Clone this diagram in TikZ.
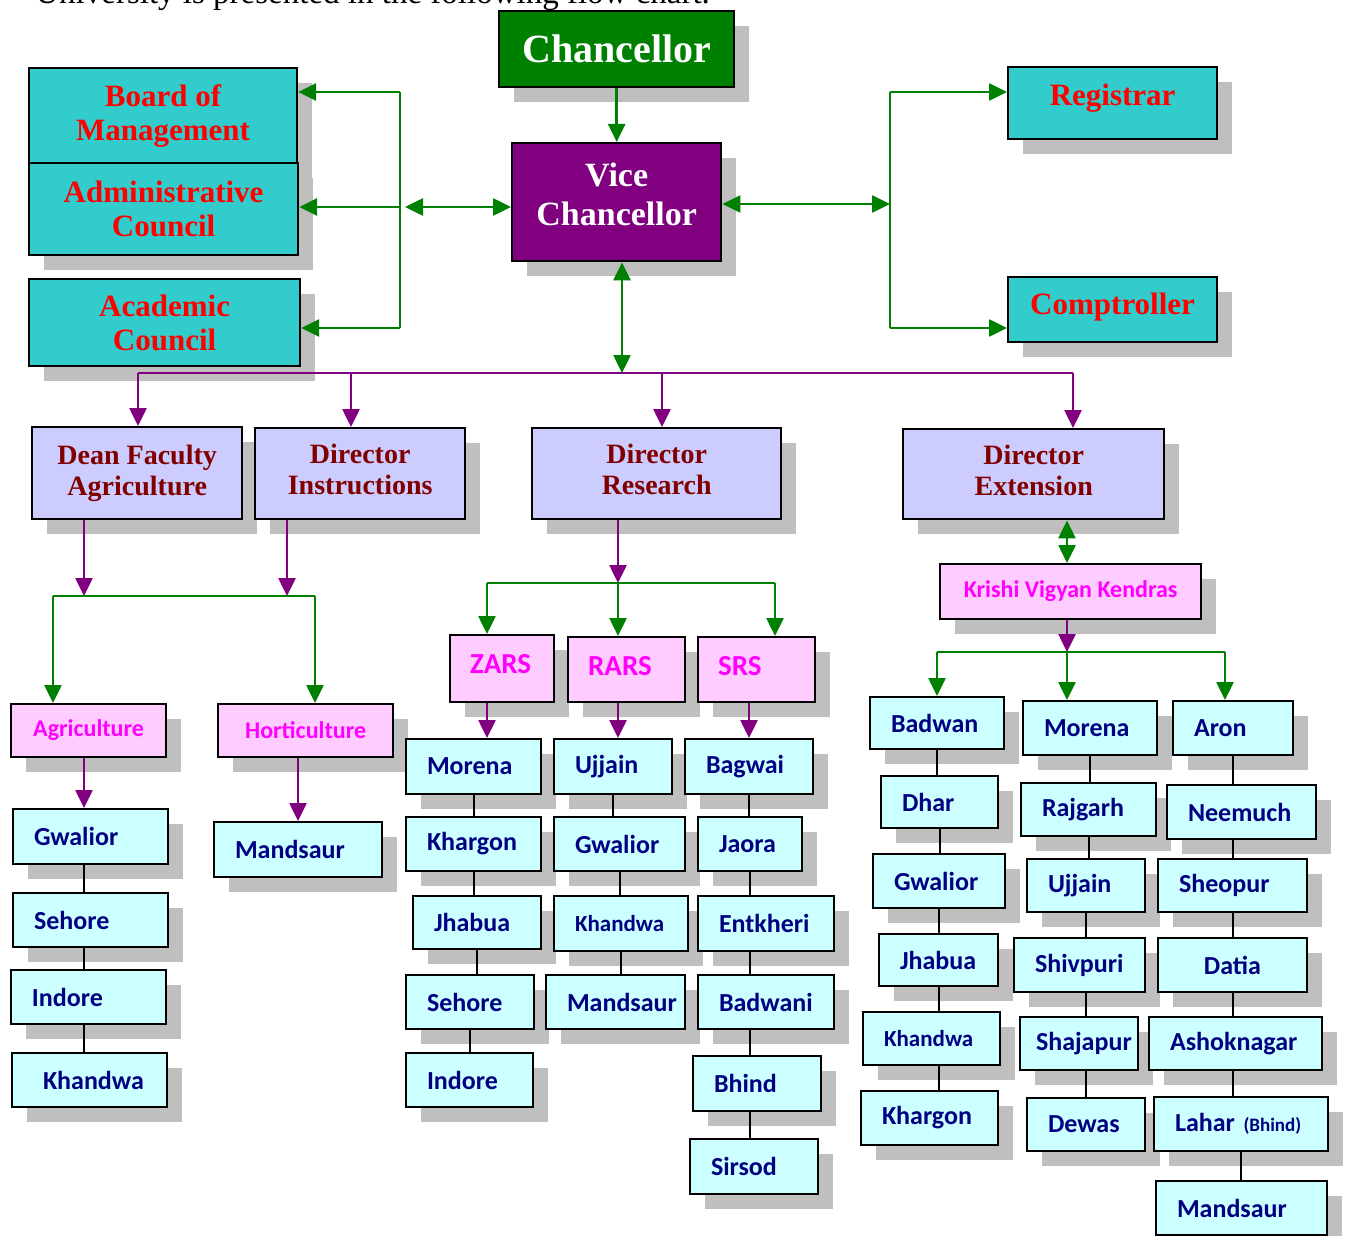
\documentclass[tikz,border=0pt]{standalone}
\usepackage{fontspec}
\setmainfont{Liberation Serif}
\newfontfamily\ocsans{Carlito}
\usetikzlibrary{arrows.meta, shadows}
\definecolor{ocGreen}{RGB}{0,128,0}
\definecolor{ocPurple}{RGB}{128,0,128}
\definecolor{ocTeal}{RGB}{51,204,204}
\definecolor{ocLavender}{RGB}{204,204,255}
\definecolor{ocPink}{RGB}{255,204,255}
\definecolor{ocCyan}{RGB}{204,255,255}
\definecolor{ocMaroon}{RGB}{128,0,0}
\definecolor{ocNavy}{RGB}{0,0,128}
\definecolor{ocRed}{RGB}{255,0,0}
\definecolor{ocMagenta}{RGB}{255,0,255}
\definecolor{ocGray}{RGB}{191,191,191}
\tikzstyle{ocShadow} = [drop shadow={shadow xshift=7.5pt, shadow yshift=-7.5pt, fill=ocGray, opacity=1}]
\tikzstyle{ocChancellor} = [rectangle, anchor=north west, draw=black, line width=1.2pt, fill=ocGreen, text=white, align=center, font=\bfseries\fontsize{20}{24}\selectfont, ocShadow]
\tikzstyle{ocVice} = [rectangle, anchor=north west, draw=black, line width=1.2pt, fill=ocPurple, text=white, align=center, font=\bfseries\fontsize{17}{19.5}\selectfont, ocShadow]
\tikzstyle{ocCouncil} = [rectangle, anchor=north west, draw=black, line width=1.1pt, fill=ocTeal, text=ocRed, align=center, font=\bfseries\fontsize{15.5}{17}\selectfont, ocShadow]
\tikzstyle{ocDirector} = [rectangle, anchor=north west, draw=black, line width=1.2pt, fill=ocLavender, text=ocMaroon, align=center, font=\bfseries\fontsize{14}{15.5}\selectfont, ocShadow]
\tikzstyle{ocStation} = [rectangle, anchor=north west, draw=black, line width=1.1pt, fill=ocPink, text=ocMagenta, align=center, font=\ocsans\bfseries\fontsize{12}{14}\selectfont, ocShadow]
\tikzstyle{ocUnit} = [rectangle, anchor=north west, draw=black, line width=1pt, fill=ocCyan, text=ocNavy, align=left, inner xsep=10.5pt, inner ysep=0pt, font=\ocsans\bfseries\fontsize{13}{15}\selectfont, ocShadow]
\tikzstyle{ocGreenLine} = [draw=ocGreen, line width=1pt]
\tikzstyle{ocPurpleLine} = [draw=ocPurple, line width=1pt]
\tikzstyle{ocGreenArrow} = [draw=ocGreen, line width=1.3pt, -{Triangle[length=9pt, width=8.5pt]}, color=ocGreen]
\tikzstyle{ocGreenBoth} = [draw=ocGreen, line width=1.3pt, {Triangle[length=9pt, width=8.5pt]}-{Triangle[length=9pt, width=8.5pt]}, color=ocGreen]
\tikzstyle{ocPurpleArrow} = [draw=ocPurple, line width=1.3pt, -{Triangle[length=9pt, width=8.5pt]}, color=ocPurple]
\tikzstyle{ocLink} = [draw=black, line width=1pt]
\begin{document}
\begin{tikzpicture}[x=0.5pt, y=-0.5pt]
    \useasboundingbox (0,0) rectangle (1346,1236);
    \node (intro) [anchor=base west, inner sep=0pt, font=\fontsize{16.5}{18}\selectfont] at (35,4) {University is presented in the following flow chart.};

    % top of the university
    \node (chancellor) [ocChancellor, minimum width=117.5pt, minimum height=38pt] at (498,10) {Chancellor};
    \node (viceChancellor) [ocVice, minimum width=104.5pt, minimum height=59pt, text depth=8pt] at (511,142) {Vice\\Chancellor};
    \node (boardMgmt) [ocCouncil, minimum width=134pt, minimum height=47.5pt] at (28,67) {Board of\\Management};
    \node (adminCouncil) [ocCouncil, minimum width=134.5pt, minimum height=46pt] at (28,162) {Administrative\\Council};
    \node (academicCouncil) [ocCouncil, minimum width=135.5pt, minimum height=43.5pt] at (28,278) {Academic\\Council};
    \node (registrar) [ocCouncil, minimum width=104.5pt, minimum height=36pt, text depth=8.3pt] at (1007,66) {Registrar};
    \node (comptroller) [ocCouncil, minimum width=104.5pt, minimum height=32.5pt, text depth=6.3pt] at (1007,276) {Comptroller};

    % directors
    \node (deanAgri) [ocDirector, minimum width=105pt, minimum height=46pt] at (31,426) {Dean Faculty\\Agriculture};
    \node (dirInstr) [ocDirector, minimum width=105pt, minimum height=45.5pt, text depth=4pt] at (254,427) {Director\\Instructions};
    \node (dirResearch) [ocDirector, minimum width=124.5pt, minimum height=45.5pt, text depth=4pt] at (531,427) {Director\\Research};
    \node (dirExtension) [ocDirector, minimum width=130.5pt, minimum height=45pt, text depth=4pt] at (902,428) {Director\\Extension};

    % colleges and stations
    \node (agriculture) [ocStation, minimum width=77.5pt, minimum height=26.5pt] at (10,703) {Agriculture};
    \node (horticulture) [ocStation, minimum width=87.5pt, minimum height=26.5pt] at (217,703) {Horticulture};
    \node (kvk) [ocStation, minimum width=130.5pt, minimum height=27.5pt] at (939,563) {Krishi Vigyan Kendras};
    \node (zars) [ocStation, align=left, inner xsep=10pt, text width=32pt, minimum height=33.5pt, text depth=5pt, font=\ocsans\bfseries\fontsize{14.5}{16}\selectfont] at (449,634) {ZARS};
    \node (rars) [ocStation, align=left, inner xsep=10pt, text width=38.5pt, minimum height=32.5pt, text depth=4pt, font=\ocsans\bfseries\fontsize{14.5}{16}\selectfont] at (567,636) {RARS};
    \node (srs) [ocStation, align=left, inner xsep=10pt, text width=38.5pt, minimum height=32.5pt, text depth=4pt, font=\ocsans\bfseries\fontsize{14.5}{16}\selectfont] at (697,636) {SRS};

    % agriculture and horticulture colleges
    \node (agGwalior) [ocUnit, text width=56.5pt, minimum height=27.5pt] at (12,808) {Gwalior};
    \node (agSehore) [ocUnit, text width=56.5pt, minimum height=27pt] at (12,892) {Sehore};
    \node (agIndore) [ocUnit, text width=56.5pt, minimum height=27pt] at (10,969) {Indore};
    \node (agKhandwa) [ocUnit, inner xsep=15.5pt, text width=46.5pt, minimum height=27pt] at (11,1052) {Khandwa};
    \node (hoMandsaur) [ocUnit, text width=63pt, minimum height=27.5pt] at (213,821) {Mandsaur};

    % research stations
    \node (zaMorena) [ocUnit, text width=46.5pt, minimum height=27.5pt] at (405,738) {Morena};
    \node (zaKhargon) [ocUnit, text width=46.5pt, minimum height=27pt] at (405,816) {Khargon};
    \node (zaJhabua) [ocUnit, text width=43pt, minimum height=26.5pt] at (412,895) {Jhabua};
    \node (zaSehore) [ocUnit, text width=43pt, minimum height=27pt] at (405,974) {Sehore};
    \node (zaIndore) [ocUnit, text width=42.5pt, minimum height=27pt] at (405,1052) {Indore};
    \node (raUjjain) [ocUnit, text width=38pt, minimum height=27.5pt] at (553,738) {Ujjain};
    \node (raGwalior) [ocUnit, text width=44.5pt, minimum height=27pt] at (553,816) {Gwalior};
    \node (raKhandwa) [ocUnit, text width=46pt, minimum height=27.5pt, font=\ocsans\bfseries\fontsize{11.5}{13}\selectfont] at (553,895) {Khandwa};
    \node (raMandsaur) [ocUnit, text width=48.5pt, minimum height=27pt] at (545,974) {Mandsaur};
    \node (srBagwai) [ocUnit, text width=43pt, minimum height=27.5pt] at (684,738) {Bagwai};
    \node (srJaora) [ocUnit, text width=31pt, minimum height=27pt] at (697,816) {Jaora};
    \node (srEntkheri) [ocUnit, text width=47pt, minimum height=27.5pt] at (697,895) {Entkheri};
    \node (srBadwani) [ocUnit, text width=47pt, minimum height=27pt] at (697,974) {Badwani};
    \node (srBhind) [ocUnit, text width=43pt, minimum height=27.5pt] at (692,1055) {Bhind};
    \node (srSirsod) [ocUnit, text width=43pt, minimum height=27.5pt] at (689,1138) {Sirsod};

    % krishi vigyan kendras
    \node (kvBadwan) [ocUnit, text width=46pt, minimum height=26pt] at (869,696) {Badwan};
    \node (kvDhar) [ocUnit, text width=37.5pt, minimum height=26pt] at (880,775) {Dhar};
    \node (kvGwalior) [ocUnit, text width=45pt, minimum height=27pt] at (872,853) {Gwalior};
    \node (kvJhabua) [ocUnit, text width=38.5pt, minimum height=26pt] at (878,933) {Jhabua};
    \node (kvKhandwa) [ocUnit, text width=47.5pt, minimum height=26.5pt, font=\ocsans\bfseries\fontsize{11.5}{13}\selectfont] at (862,1011) {Khandwa};
    \node (kvKhargon) [ocUnit, text width=47.5pt, minimum height=27pt] at (860,1090) {Khargon};
    \node (kvMorena) [ocUnit, text width=46pt, minimum height=27pt] at (1022,700) {Morena};
    \node (kvRajgarh) [ocUnit, text width=46.5pt, minimum height=26.5pt] at (1020,782) {Rajgarh};
    \node (kvUjjain) [ocUnit, text width=38pt, minimum height=26.5pt] at (1026,858) {Ujjain};
    \node (kvShivpuri) [ocUnit, text width=44.5pt, minimum height=27pt] at (1013,937) {Shivpuri};
    \node (kvShajapur) [ocUnit, inner xsep=8pt, text width=43pt, minimum height=26.5pt] at (1019,1016) {Shajapur};
    \node (kvDewas) [ocUnit, text width=38pt, minimum height=26.5pt] at (1026,1097) {Dewas};
    \node (kvAron) [ocUnit, text width=39pt, minimum height=27pt] at (1172,700) {Aron};
    \node (kvNeemuch) [ocUnit, text width=53.5pt, minimum height=27pt] at (1166,784) {Neemuch};
    \node (kvSheopur) [ocUnit, text width=53.5pt, minimum height=26.5pt] at (1157,858) {Sheopur};
    \node (kvDatia) [ocUnit, align=center, text width=53.5pt, minimum height=27pt] at (1157,937) {Datia};
    \node (kvAshoknagar) [ocUnit, text width=65.5pt, minimum height=26.5pt] at (1148,1016) {Ashoknagar};
    \node (kvLahar) [ocUnit, text width=66pt, minimum height=27pt] at (1153,1096) {Lahar {\fontsize{9.5}{11}\selectfont(Bhind)}};
    \node (kvMandsaur) [ocUnit, text width=64.5pt, minimum height=27pt] at (1155,1180) {Mandsaur};

    % chancellor and councils
    \draw [ocGreenArrow] (chancellor) -- (viceChancellor);
    \coordinate (leftTop) at (400,92);
    \coordinate (leftAdmin) at (400,207);
    \coordinate (leftBot) at (400,328);
    \coordinate (leftVice) at (405,207);
    \draw [ocGreenLine] (leftTop) -- (leftBot);
    \draw [ocGreenArrow] (leftTop) -- (boardMgmt.east |- leftTop);
    \draw [ocGreenArrow] (leftAdmin) -- (adminCouncil.east |- leftAdmin);
    \draw [ocGreenArrow] (leftBot) -- (academicCouncil.east |- leftBot);
    \draw [ocGreenBoth] (leftVice) -- (viceChancellor.west |- leftVice);
    \coordinate (rightTop) at (890,92);
    \coordinate (rightMid) at (890,204);
    \coordinate (rightBot) at (890,328);
    \draw [ocGreenLine] (rightTop) -- (rightBot);
    \draw [ocGreenBoth] (viceChancellor.east |- rightMid) -- (rightMid);
    \draw [ocGreenArrow] (rightTop) -- (registrar.west |- rightTop);
    \draw [ocGreenArrow] (rightBot) -- (comptroller.west |- rightBot);

    % vice chancellor to directors
    \coordinate (mainBus) at (622,373);
    \coordinate (busLeft) at (138,373);
    \coordinate (busInstr) at (351,373);
    \coordinate (busResearch) at (662,373);
    \coordinate (busRight) at (1073,373);
    \draw [ocPurpleLine] (busLeft) -- (busRight);
    \draw [ocGreenBoth] (viceChancellor.south -| mainBus) -- (mainBus);
    \draw [ocPurpleArrow] (busLeft) -- (deanAgri.north -| busLeft);
    \draw [ocPurpleArrow] (busInstr) -- (dirInstr.north -| busInstr);
    \draw [ocPurpleArrow] (busResearch) -- (dirResearch.north -| busResearch);
    \draw [ocPurpleArrow] (busRight) -- (dirExtension.north -| busRight);

    % faculty
    \coordinate (facLeft) at (53,596);
    \coordinate (facDean) at (84,596);
    \coordinate (facInstr) at (287,596);
    \coordinate (facRight) at (315,596);
    \draw [ocPurpleArrow] (deanAgri.south -| facDean) -- (facDean);
    \draw [ocPurpleArrow] (dirInstr.south -| facInstr) -- (facInstr);
    \draw [ocGreenLine] (facLeft) -- (facRight);
    \draw [ocGreenArrow] (facLeft) -- (agriculture.north -| facLeft);
    \draw [ocGreenArrow] (facRight) -- (horticulture.north -| facRight);
    \draw [ocPurpleArrow] (agriculture.south -| facDean) -- (agGwalior.north -| facDean);
    \draw [ocPurpleArrow] (horticulture.south -| hoMandsaur) -- (hoMandsaur.north);
    \draw [ocLink] (agGwalior.south -| facDean) -- (agSehore.north -| facDean);
    \draw [ocLink] (agSehore.south -| facDean) -- (agIndore.north -| facDean);
    \draw [ocLink] (agIndore.south -| facDean) -- (agKhandwa.north -| facDean);

    % research
    \coordinate (resLeft) at (487,583);
    \coordinate (resMid) at (618,583);
    \coordinate (resRight) at (775,583);
    \draw [ocPurpleArrow] (dirResearch.south -| resMid) -- (resMid);
    \draw [ocGreenLine] (resLeft) -- (resRight);
    \draw [ocGreenArrow] (resLeft) -- (zars.north -| resLeft);
    \draw [ocGreenArrow] (resMid) -- (rars.north -| resMid);
    \draw [ocGreenArrow] (resRight) -- (srs.north -| resRight);
    \draw [ocPurpleArrow] (zars.south -| resLeft) -- (zaMorena.north -| resLeft);
    \draw [ocPurpleArrow] (rars.south -| resMid) -- (raUjjain.north -| resMid);
    \draw [ocPurpleArrow] (srs.south -| srBagwai) -- (srBagwai.north);
    \draw [ocLink] (zaMorena.south) -- (zaMorena.south |- zaKhargon.north);
    \draw [ocLink] (zaKhargon.south) -- (zaKhargon.south |- zaJhabua.north);
    \draw [ocLink] (zaJhabua.south) -- (zaJhabua.south |- zaSehore.north);
    \draw [ocLink] (zaSehore.south) -- (zaSehore.south |- zaIndore.north);
    \draw [ocLink] (raUjjain.south) -- (raUjjain.south |- raGwalior.north);
    \draw [ocLink] (raGwalior.south) -- (raGwalior.south |- raKhandwa.north);
    \draw [ocLink] (raKhandwa.south) -- (raKhandwa.south |- raMandsaur.north);
    \draw [ocLink] (srBagwai.south) -- (srBagwai.south |- srJaora.north);
    \draw [ocLink] (srJaora.south) -- (srJaora.south |- srEntkheri.north);
    \draw [ocLink] (srEntkheri.south -| srJaora) -- (srJaora |- srBadwani.north);
    \draw [ocLink] (srBadwani.south -| srJaora) -- (srJaora |- srBhind.north);
    \draw [ocLink] (srBhind.south -| srJaora) -- (srJaora |- srSirsod.north);

    % extension
    \coordinate (extLeft) at (937,652);
    \coordinate (extMid) at (1067,652);
    \coordinate (extRight) at (1225,652);
    \draw [ocGreenBoth] (dirExtension.south -| extMid) -- (kvk.north -| extMid);
    \draw [ocPurpleArrow] (kvk.south -| extMid) -- (extMid);
    \draw [ocGreenLine] (extLeft) -- (extRight);
    \draw [ocGreenArrow] (extLeft) -- (kvBadwan.north -| extLeft);
    \draw [ocGreenArrow] (extMid) -- (kvMorena.north -| extMid);
    \draw [ocGreenArrow] (extRight) -- (kvAron.north -| extRight);
    \draw [ocLink] (kvBadwan.south) -- (kvBadwan.south |- kvDhar.north);
    \draw [ocLink] (kvDhar.south) -- (kvDhar.south |- kvGwalior.north);
    \draw [ocLink] (kvGwalior.south) -- (kvGwalior.south |- kvJhabua.north);
    \draw [ocLink] (kvJhabua.south) -- (kvJhabua.south |- kvKhandwa.north);
    \draw [ocLink] (kvKhandwa.south -| kvJhabua) -- (kvJhabua |- kvKhargon.north);
    \draw [ocLink] (kvMorena.south) -- (kvMorena.south |- kvRajgarh.north);
    \draw [ocLink] (kvRajgarh.south) -- (kvRajgarh.south |- kvUjjain.north);
    \draw [ocLink] (kvUjjain.south) -- (kvUjjain.south |- kvShivpuri.north);
    \draw [ocLink] (kvShivpuri.south -| kvUjjain) -- (kvUjjain |- kvShajapur.north);
    \draw [ocLink] (kvShajapur.south -| kvUjjain) -- (kvUjjain |- kvDewas.north);
    \draw [ocLink] (kvAron.south) -- (kvAron.south |- kvNeemuch.north);
    \draw [ocLink] (kvNeemuch.south -| kvAron) -- (kvAron |- kvSheopur.north);
    \draw [ocLink] (kvSheopur.south) -- (kvSheopur.south |- kvDatia.north);
    \draw [ocLink] (kvDatia.south) -- (kvDatia.south |- kvAshoknagar.north);
    \draw [ocLink] (kvAshoknagar.south -| kvAron) -- (kvAron |- kvLahar.north);
    \draw [ocLink] (kvLahar.south) -- (kvLahar.south |- kvMandsaur.north);
\end{tikzpicture}
\end{document}
